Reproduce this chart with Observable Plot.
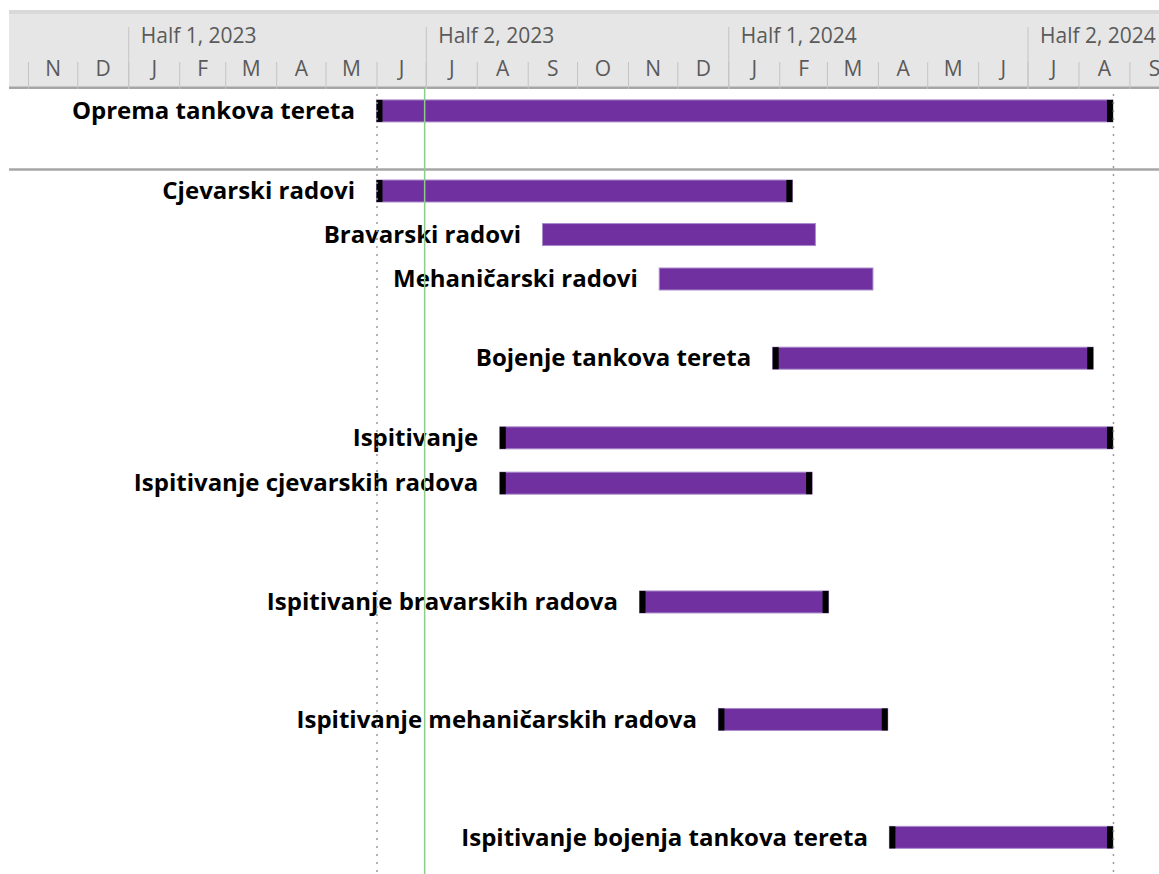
<!DOCTYPE html>
<html><head><meta charset="utf-8">
<script src="https://cdn.jsdelivr.net/npm/d3@7"></script>
<script src="https://cdn.jsdelivr.net/npm/@observablehq/plot@0.6"></script>
<style>html,body{margin:0;padding:0;background:#fff;overflow:hidden}#chart svg{display:block}</style>
</head><body><div id="chart"></div>
<script>
// ---- data ----
const taskNames = ["Oprema tankova tereta","Cjevarski radovi","Bravarski radovi","Mehaničarski radovi","Bojenje tankova tereta","Ispitivanje","Ispitivanje cjevarskih radova","Ispitivanje bravarskih radova","Ispitivanje mehaničarskih radova","Ispitivanje bojenja tankova tereta"];
const taskStart = ["2023-06-01","2023-06-01","2023-09-10","2023-11-20","2024-01-28","2023-08-15","2023-08-15","2023-11-08","2023-12-26","2024-04-08"];
const taskEnd   = ["2024-08-22","2024-02-09","2024-02-23","2024-03-29","2024-08-10","2024-08-22","2024-02-21","2024-03-02","2024-04-07","2024-08-22"];
const taskLane  = [-1.82, 0, 0.99, 2, 3.8, 5.61, 6.64, 9.34, 12.01, 14.69];
const taskMarked = [true, true, false, false, true, true, true, true, true, true];
const monthLetters = ["N","D","J","F","M","A","M","J","J","A","S","O","N","D","J","F","M","A","M","J","J","A","S"];
const monthStarts = ["2022-11-01","2022-12-01","2023-01-01","2023-02-01","2023-03-01","2023-04-01","2023-05-01","2023-06-01","2023-07-01","2023-08-01","2023-09-01","2023-10-01","2023-11-01","2023-12-01","2024-01-01","2024-02-01","2024-03-01","2024-04-01","2024-05-01","2024-06-01","2024-07-01","2024-08-01","2024-09-01"];
const halfLabels = ["Half 1, 2023","Half 2, 2023","Half 1, 2024","Half 2, 2024"];
const halfStarts = ["2023-01-01","2023-07-01","2024-01-01","2024-07-01"];
const timelineBounds = ["2023-06-01","2024-08-22"];
const todayDate = "2023-06-30";
const viewDomain = ["2022-10-15","2024-09-19"];
const sectionBreak = -0.5;

// ---- tables ----
const P = s => new Date(s + "T00:00:00Z");
const tasks = taskNames.map((name, i) => ({name, start: P(taskStart[i]), end: P(taskEnd[i]), lane: taskLane[i], marked: taskMarked[i]}));
const months = monthStarts.map((s, i) => {
  const a = P(s), b = d3.utcMonth.offset(a, 1);
  return {start: a, mid: new Date((+a + +b) / 2), letter: monthLetters[i]};
});
const halves = halfStarts.map((s, i) => ({start: P(s), label: halfLabels[i]}));
const marked = tasks.filter(d => d.marked);

const W = 1159, H = 874;
const headerBg = (index, scales, values, dim) => {
  const g = d3.create("svg:g");
  g.append("rect").attr("x", 9).attr("y", 10).attr("width", dim.width - 9).attr("height", 78).attr("fill", "#e6e6e6");
  g.append("rect").attr("x", 9).attr("y", 10).attr("width", dim.width - 9).attr("height", 4).attr("fill", "#d9d9d9");
  g.append("rect").attr("x", 9).attr("y", 86.5).attr("width", dim.width - 9).attr("height", 2.5).attr("fill", "#a6a6a6");
  return g.node();
};

const font = "'Open Sans', 'Noto Sans', sans-serif";
const chart = Plot.plot({
  width: W, height: H,
  marginTop: 88, marginLeft: 0, marginRight: 0, marginBottom: 0,
  style: {fontFamily: font, background: "#fff", overflow: "visible"},
  x: {type: "utc", domain: viewDomain.map(P), range: [0, W], label: null},
  y: {type: "linear", domain: [0, 1], range: [191, 235], axis: null},
  marks: [
    headerBg,
    Plot.axisX({ticks: months.map(d => d.start), anchor: "top", tickSize: 27, tickFormat: () => "", stroke: "#c4c4c4", label: null}),
    Plot.axisX({ticks: halves.map(d => d.start), anchor: "top", tickSize: 62, tickFormat: () => "", stroke: "#c4c4c4", label: null}),
    Plot.text(months, {x: "mid", text: "letter", frameAnchor: "top", dy: -27, fontSize: 21, fill: "#5a5a5a"}),
    Plot.text(halves, {x: "start", text: "label", frameAnchor: "top", dy: -60, dx: 12, textAnchor: "start", fontSize: 21, fill: "#5a5a5a"}),
    Plot.ruleY([sectionBreak], {stroke: "#a6a6a6", strokeWidth: 2.5, insetLeft: 9}),
    Plot.rect(tasks, {x1: "start", x2: "end", y1: "lane", y2: "lane", insetTop: -11, insetBottom: -11, fill: "#7030a0", stroke: "#a98bc9", strokeWidth: 1}),
    Plot.rect(marked, {x1: "start", x2: "start", y1: "lane", y2: "lane", insetTop: -11, insetBottom: -11, insetRight: -6, fill: "#000"}),
    Plot.rect(marked, {x1: "end", x2: "end", y1: "lane", y2: "lane", insetTop: -11, insetBottom: -11, insetLeft: -6, fill: "#000"}),
    Plot.text(tasks, {x: "start", y: "lane", text: "name", textAnchor: "end", dx: -22, fontSize: 24, fontWeight: "bold", fill: "#000"}),
    Plot.ruleX(timelineBounds.map(P), {stroke: "#9a9a9a", strokeWidth: 1.5, strokeDasharray: "2,6", insetTop: 6}),
    Plot.ruleX([P(todayDate)], {stroke: "#8ccc8c", strokeWidth: 1.5})
  ]
});
document.getElementById("chart").appendChild(chart);
</script>
</body></html>
